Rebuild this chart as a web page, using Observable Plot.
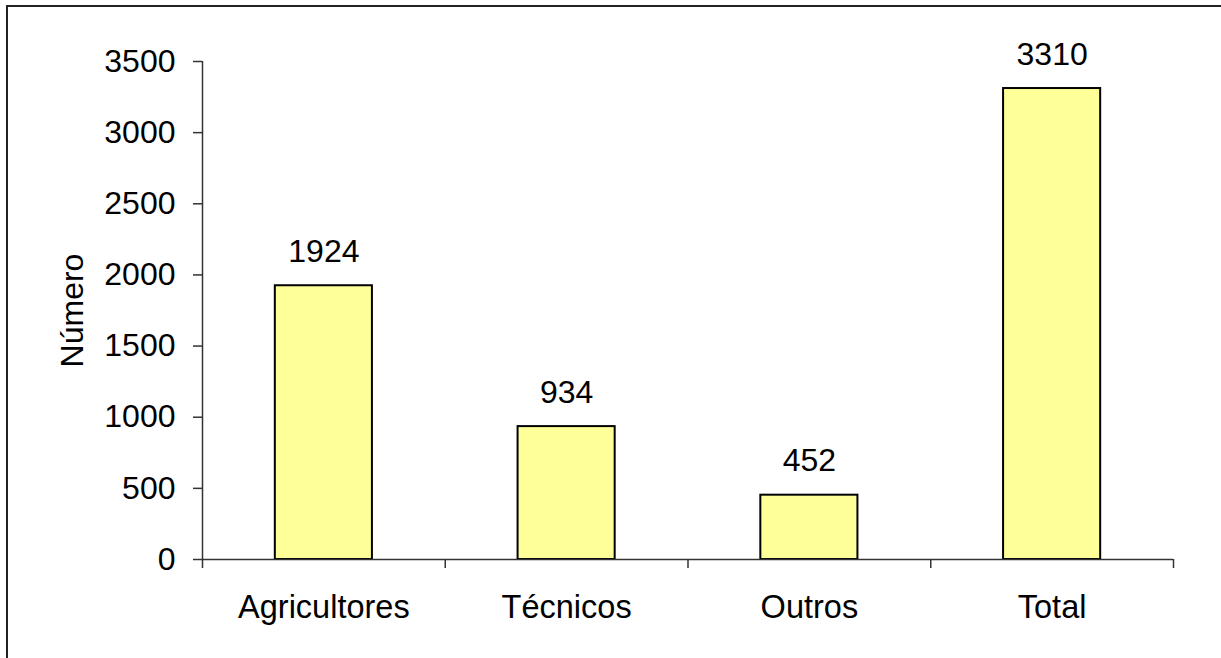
<!DOCTYPE html>
<html>
<head>
<meta charset="utf-8">
<script src="https://cdn.jsdelivr.net/npm/d3@7"></script>
<script src="https://cdn.jsdelivr.net/npm/@observablehq/plot@0.6"></script>
<style>
  html, body { margin: 0; padding: 0; background: #fff; }
  #wrap { position: relative; width: 1221px; height: 658px; overflow: hidden; }
  #frame { position: absolute; left: 6px; top: 5px; width: 1300px; height: 800px;
           border-left: 2px solid #222; border-top: 2px solid #222; pointer-events: none; }
  svg { display: block; }
</style>
</head>
<body>
<div id="wrap"><div id="frame"></div></div>
<script>
const categories = ["Agricultores", "Técnicos", "Outros", "Total"];
const values = [1924, 934, 452, 3310];
const yTicks = [0, 500, 1000, 1500, 2000, 2500, 3000, 3500];
const yTitle = "Número";

const data = categories.map((c, i) => ({cat: c, i, value: values[i]}));
const boundaries = d3.range(categories.length + 1);

const chart = Plot.plot({
  width: 1221,
  height: 658,
  marginLeft: 202,
  marginRight: 48,
  marginTop: 61,
  marginBottom: 99,
  x: {domain: [0, categories.length], axis: null},
  y: {domain: [0, 3500], axis: null},
  style: {fontFamily: "'Liberation Sans', Arial, sans-serif", fontSize: "32px", color: "#000", background: "transparent"},
  marks: [
    Plot.rectY(data, {x1: d => d.i + 0.3, x2: d => d.i + 0.7, y: "value", fill: "#ffff99", stroke: "#000", strokeWidth: 2}),
    Plot.ruleX([0], {stroke: "#333", strokeWidth: 1.5}),
    Plot.ruleY([0], {stroke: "#333", strokeWidth: 1.5}),
    Plot.axisY({ticks: yTicks, tickSize: 9, tickPadding: 18, tickFormat: d => String(d), fontSize: 32, label: null, stroke: "#333", strokeWidth: 1.5, strokeOpacity: 1, fill: "#000"}),
    Plot.axisX({ticks: boundaries, tickSize: 9, tickFormat: () => "", label: null, stroke: "#333", strokeWidth: 1.5, strokeOpacity: 1}),
    Plot.text(data, {x: d => d.i + 0.5, y: 0, text: "cat", dy: 58, lineAnchor: "bottom", fontSize: 32.5, fill: "#000"}),
    Plot.text(data, {x: d => d.i + 0.5, y: "value", text: d => String(d.value), dy: -24, lineAnchor: "bottom", fontSize: 32, fill: "#000"}),
    Plot.text([yTitle], {frameAnchor: "left", text: d => d, rotate: -90, textAnchor: "middle", dx: -130, dy: 0, fontSize: 32, fill: "#000"})
  ]
});
document.getElementById("wrap").insertBefore(chart, document.getElementById("frame"));
</script>
</body>
</html>
